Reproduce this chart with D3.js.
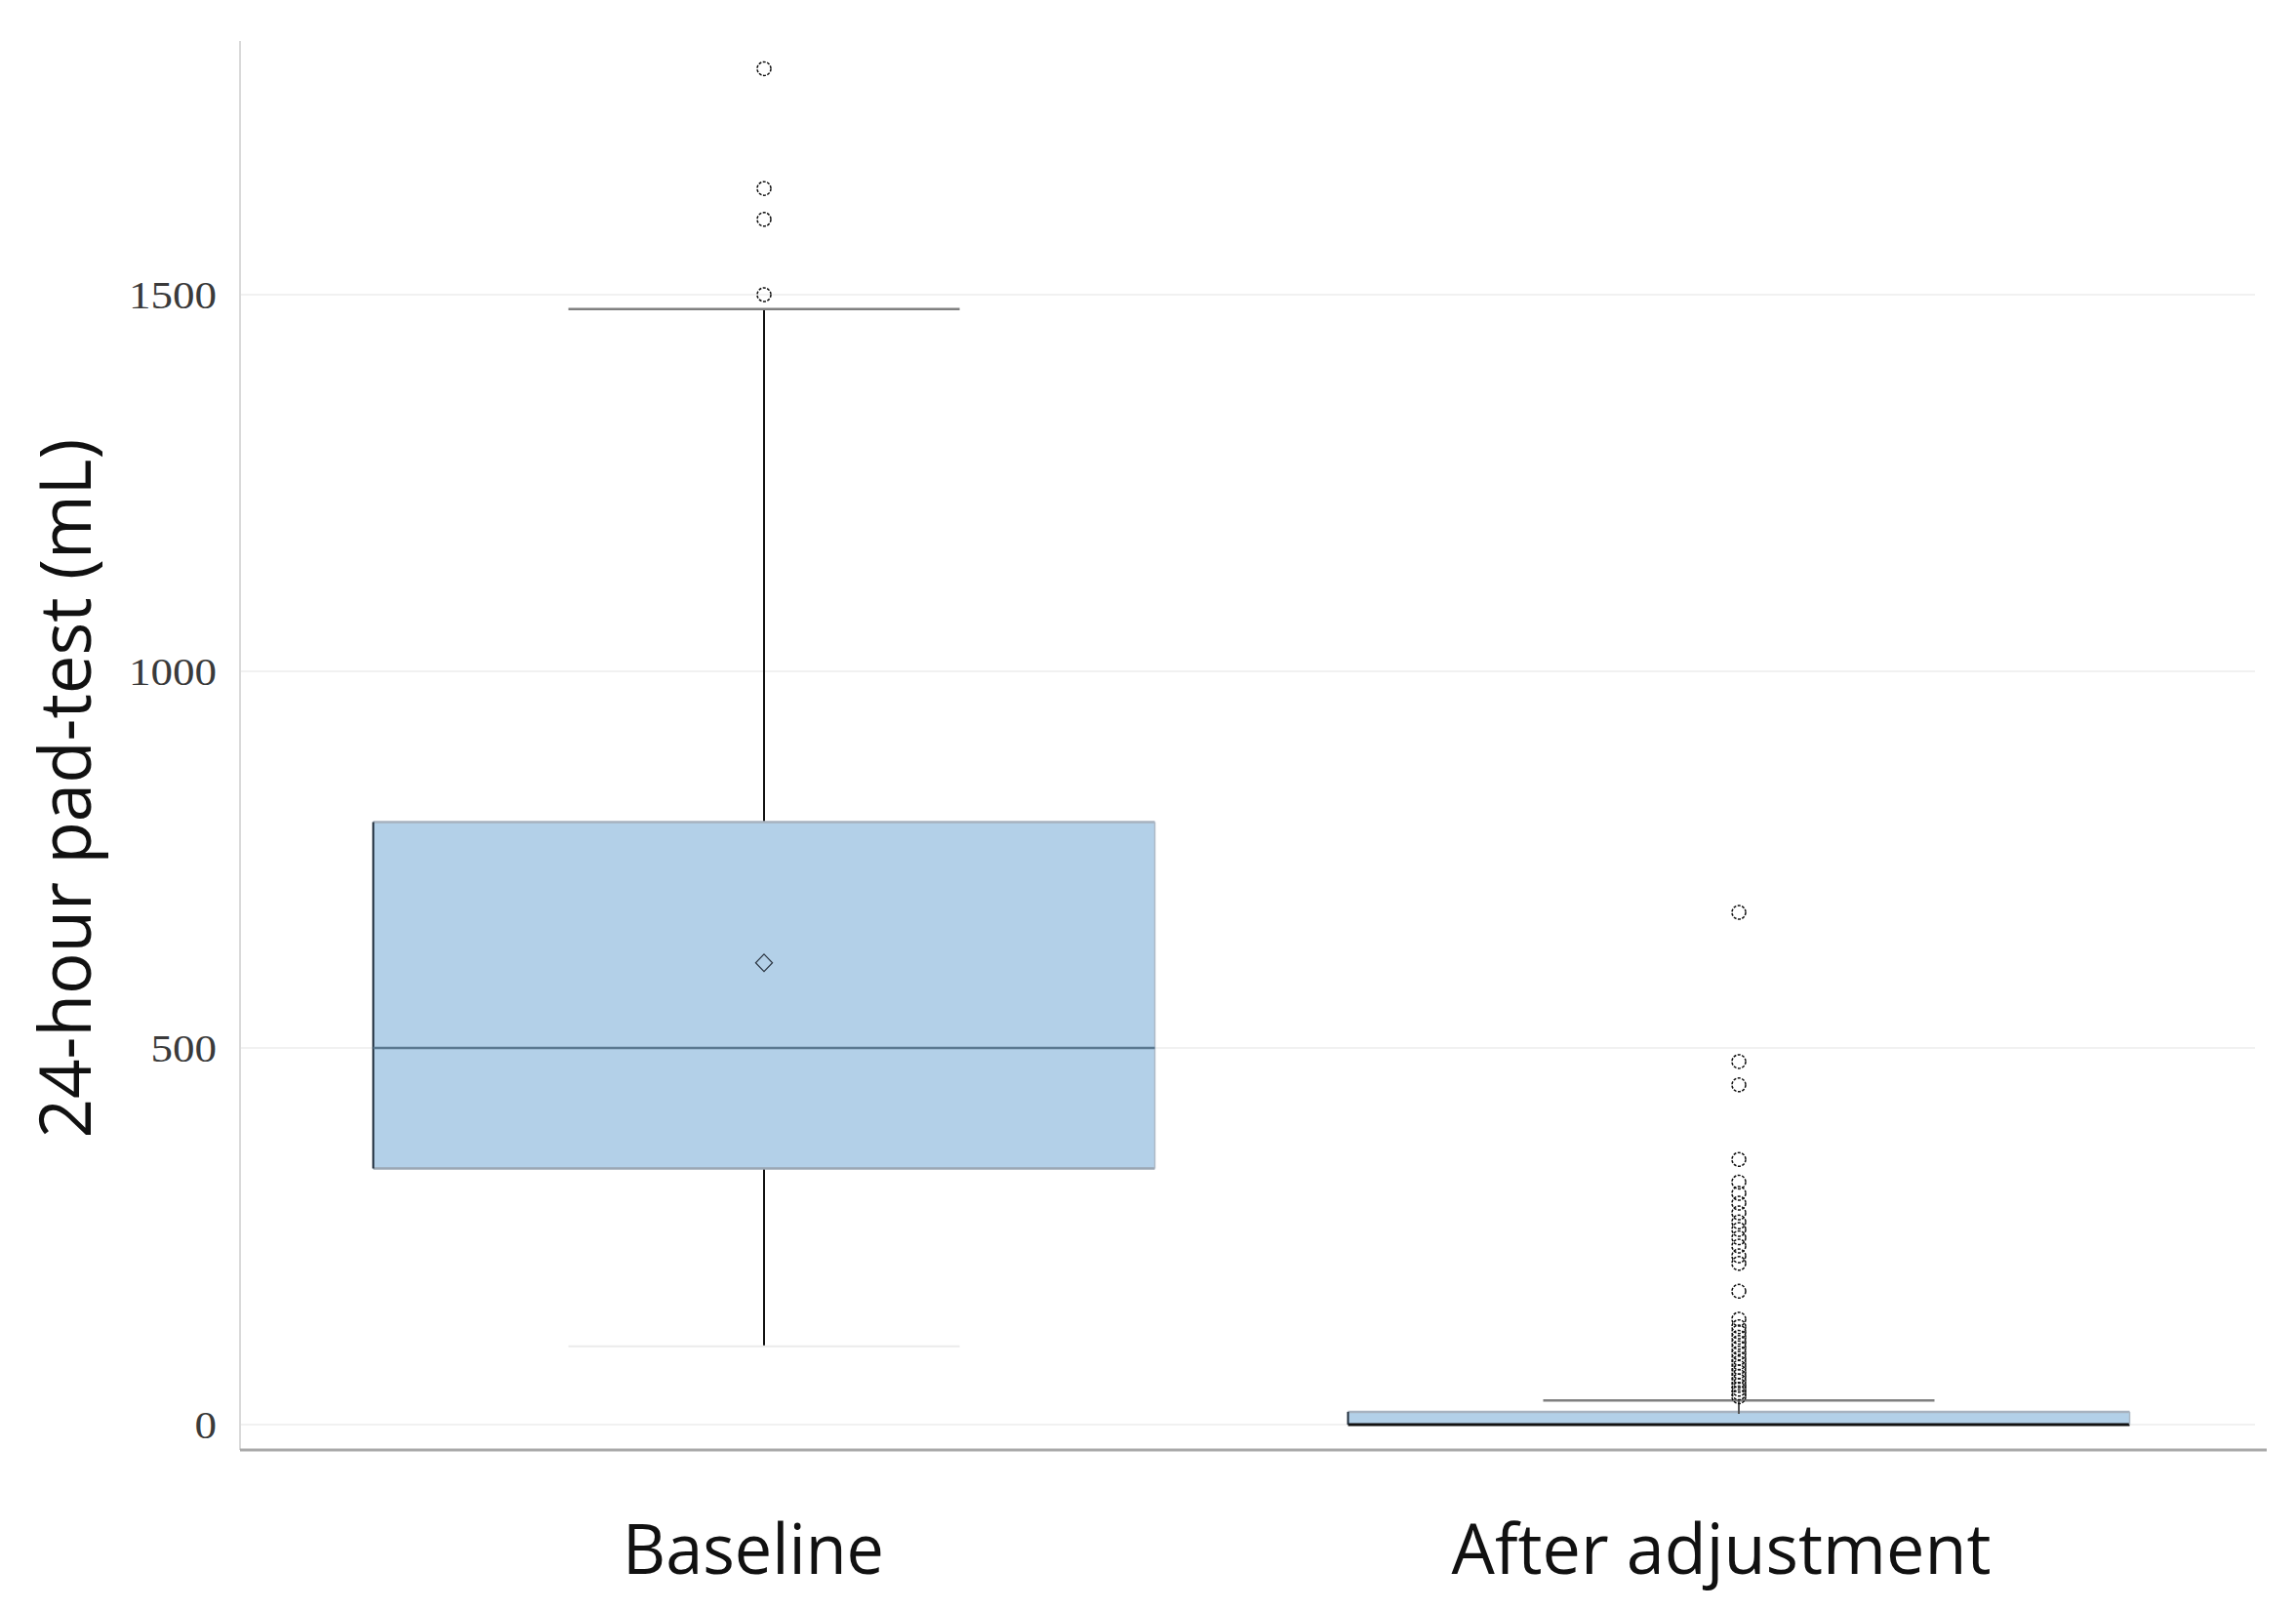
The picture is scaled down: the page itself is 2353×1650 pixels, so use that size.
<!DOCTYPE html>
<html>
<head>
<meta charset="utf-8">
<script src="https://cdn.jsdelivr.net/npm/d3@7"></script>
<style>
  html, body { margin: 0; padding: 0; background: #fff; }
  svg { display: block; }
</style>
</head>
<body>
<svg id="chart" width="2353" height="1650"></svg>
<script>
// ---- data ----
const categories = ["Baseline", "After adjustment"];
const q1Values = [340, 0];
const medianValues = [500, 0];
const q3Values = [800, 17];
const whiskerLow = [104, 0];
const whiskerHigh = [1481, 32];
const meanValues = [613, null];
const outliersBaseline = [1800, 1641, 1600, 1500];
const outliersAfter = [680, 482, 451, 352, 322, 307, 294, 281, 269, 259, 248, 237, 224, 214,
  177, 140, 130, 123, 116, 109, 102, 95, 88, 82, 76, 70, 64, 58, 52, 47, 42, 37];
const outliers = [outliersBaseline, outliersAfter];
const yTicks = [0, 500, 1000, 1500];
const yTitle = "24-hour pad-test (mL)";

// ---- layout ----
const svg = d3.select("#chart");
const plotLeft = 246, plotRight = 2323, plotTop = 42, axisY = 1486;

const y = d3.scaleLinear().domain([0, 1500]).range([1460, 302]);
const x = d3.scalePoint().domain(categories).range([783, 1782]);
const boxW = 801, capW = 401;

// gridlines
svg.append("g").selectAll("line").data(yTicks).join("line")
  .attr("x1", plotLeft).attr("x2", 2311)
  .attr("y1", d => y(d)).attr("y2", d => y(d))
  .attr("stroke", "#ececec").attr("stroke-width", 1.5);

// y tick labels
const yAxis = d3.axisLeft(y).tickValues(yTicks).tickSize(0).tickPadding(0).tickFormat(d3.format("d"));
const gy = svg.append("g").attr("transform", `translate(222,0)`).call(yAxis);
gy.select(".domain").remove();
gy.selectAll("text")
  .attr("font-family", "'Liberation Serif', 'DejaVu Serif', serif")
  .attr("font-size", 40).attr("fill", "#3a3a3a").attr("dy", "0.34em")
  .attr("textLength", d => String(d).length * 22.5).attr("lengthAdjust", "spacingAndGlyphs");

// axis lines
svg.append("line").attr("x1", plotLeft).attr("x2", plotLeft)
  .attr("y1", plotTop).attr("y2", axisY).attr("stroke", "#d9d9d9").attr("stroke-width", 2);
svg.append("line").attr("x1", plotLeft).attr("x2", plotRight)
  .attr("y1", axisY).attr("y2", axisY).attr("stroke", "#a9a9a9").attr("stroke-width", 3);

// boxes
const groups = svg.append("g").selectAll("g").data(categories).join("g");

groups.each(function(cat, i) {
  const g = d3.select(this);
  const cx = x(cat);
  // whisker line
  g.append("line").attr("x1", cx).attr("x2", cx)
    .attr("y1", y(whiskerHigh[i])).attr("y2", y(q3Values[i]))
    .attr("stroke", i === 0 ? "#111" : "#555").attr("stroke-width", 2);
  if (whiskerLow[i] < q1Values[i]) {
    g.append("line").attr("x1", cx).attr("x2", cx)
      .attr("y1", y(q1Values[i])).attr("y2", y(whiskerLow[i]))
      .attr("stroke", "#111").attr("stroke-width", 2);
    g.append("line").attr("x1", cx - capW / 2).attr("x2", cx + capW / 2)
      .attr("y1", y(whiskerLow[i])).attr("y2", y(whiskerLow[i]))
      .attr("stroke", "#ebebeb").attr("stroke-width", 2);
  }
  // upper cap
  g.append("line").attr("x1", cx - capW / 2).attr("x2", cx + capW / 2)
    .attr("y1", y(whiskerHigh[i])).attr("y2", y(whiskerHigh[i]))
    .attr("stroke", "#808080").attr("stroke-width", 2.5);

  // box fill
  const top = y(q3Values[i]), bot = y(q1Values[i]);
  g.append("rect").attr("x", cx - boxW / 2).attr("y", top)
    .attr("width", boxW).attr("height", bot - top)
    .attr("fill", "#b3d0e8");
  // box edges
  g.append("line").attr("x1", cx - boxW / 2).attr("x2", cx + boxW / 2)
    .attr("y1", top).attr("y2", top).attr("stroke", "#a7b2bf").attr("stroke-width", 2.5);
  g.append("line").attr("x1", cx - boxW / 2).attr("x2", cx + boxW / 2)
    .attr("y1", bot).attr("y2", bot).attr("stroke", i === 0 ? "#9aa6b3" : "#111").attr("stroke-width", i === 0 ? 2.5 : 3);
  g.append("line").attr("x1", cx - boxW / 2).attr("x2", cx - boxW / 2)
    .attr("y1", top).attr("y2", bot).attr("stroke", "#1e2c3a").attr("stroke-width", 2);
  g.append("line").attr("x1", cx + boxW / 2).attr("x2", cx + boxW / 2)
    .attr("y1", top).attr("y2", bot).attr("stroke", "#aeb9c5").attr("stroke-width", 1.5);
  // median
  if (medianValues[i] > q1Values[i]) {
    g.append("line").attr("x1", cx - boxW / 2).attr("x2", cx + boxW / 2)
      .attr("y1", y(medianValues[i])).attr("y2", y(medianValues[i]))
      .attr("stroke", "#5a7890").attr("stroke-width", 2.5);
  }
  // short stub of whisker into box for the small box
  if (i === 1) {
    g.append("line").attr("x1", cx).attr("x2", cx)
      .attr("y1", y(whiskerHigh[i])).attr("y2", top + 2)
      .attr("stroke", "#555").attr("stroke-width", 2);
  }
  // mean diamond
  if (meanValues[i] != null) {
    const my = y(meanValues[i]);
    g.append("path")
      .attr("d", d3.symbol(d3.symbolDiamond, 100)())
      .attr("transform", `translate(${cx},${my}) scale(1.6,0.95)`)
      .attr("fill", "none").attr("stroke", "#2a3440").attr("stroke-width", 1.2)
      .attr("vector-effect", "non-scaling-stroke");
  }
  // outliers
  g.append("g").selectAll("circle").data(outliers[i]).join("circle")
    .attr("cx", cx).attr("cy", d => y(d)).attr("r", 7)
    .attr("fill", "none").attr("stroke", "#111").attr("stroke-width", 1.5)
    .attr("stroke-dasharray", "3 1.5");
});

// x category labels
const xLabelLen = [268, 553];
const xLabelShift = [-11, -18];
svg.append("g").selectAll("text").data(categories).join("text")
  .attr("x", (d, i) => x(d) + xLabelShift[i]).attr("y", 1613)
  .attr("text-anchor", "middle")
  .attr("font-family", "'Open Sans', 'Noto Sans', sans-serif")
  .attr("font-size", 71).attr("fill", "#111")
  .attr("textLength", (d, i) => xLabelLen[i]).attr("lengthAdjust", "spacingAndGlyphs")
  .text(d => d);

// y title
svg.append("text")
  .attr("transform", "translate(93,808) rotate(-90)")
  .attr("text-anchor", "middle")
  .attr("font-family", "'Open Sans', 'Noto Sans', sans-serif")
  .attr("font-size", 74).attr("fill", "#111")
  .attr("textLength", 717).attr("lengthAdjust", "spacingAndGlyphs")
  .text(yTitle);
</script>
</body>
</html>
